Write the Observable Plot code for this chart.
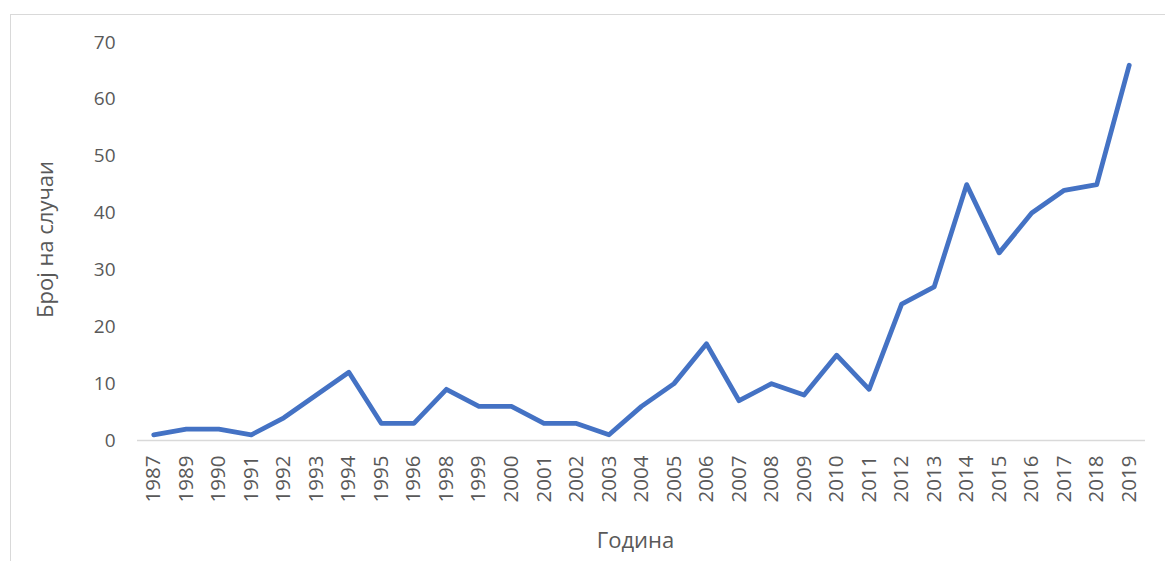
<!DOCTYPE html>
<html>
<head>
<meta charset="utf-8">
<script src="https://cdn.jsdelivr.net/npm/d3@7"></script>
<script src="https://cdn.jsdelivr.net/npm/@observablehq/plot@0.6"></script>
<style>
  html, body { margin: 0; padding: 0; background: #fff; overflow: hidden; width: 1165px; height: 561px; }
  #border { position: absolute; left: 10px; top: 14px; width: 1200px; height: 600px; border: 1.5px solid #d9d9d9; }
  #chart { position: absolute; left: 0; top: 0; }
</style>
</head>
<body>
<div id="border"></div>
<div id="chart"></div>
<script>
const years = ["1987","1989","1990","1991","1992","1993","1994","1995","1996","1998","1999","2000","2001","2002","2003","2004","2005","2006","2007","2008","2009","2010","2011","2012","2013","2014","2015","2016","2017","2018","2019"];
const cases = [1,2,2,1,4,8,12,3,3,9,6,6,3,3,1,6,10,17,7,10,8,15,9,24,27,45,33,40,44,45,66];
const yTicks = [0,10,20,30,40,50,60,70];
const xTitle = "Година";
const yTitle = "Број на случаи";

const data = years.map((y, i) => ({year: y, value: cases[i]}));
const textColor = "#595959";
const font = "'Open Sans', sans-serif";

const chart = Plot.plot({
  width: 1165,
  height: 561,
  marginLeft: 137,
  marginRight: 20,
  marginTop: 42,
  marginBottom: 121,
  style: {fontFamily: font, fontSize: "19px", color: textColor, background: "transparent"},
  x: {type: "point", domain: years, padding: 0.5, round: false},
  y: {domain: [0, 70]},
  marks: [
    Plot.ruleY([0], {stroke: "#d9d9d9", strokeWidth: 1.5}),
    Plot.axisY({ticks: yTicks, tickSize: 0, tickPadding: 22, label: null, fill: textColor, fontSize: 19}),
    Plot.axisX({tickRotate: -90, tickSize: 0, tickPadding: 15, label: null, fill: textColor, fontSize: 20.5}),
    Plot.line(data, {x: "year", y: "value", stroke: "#4472C4", strokeWidth: 4.8, strokeLinejoin: "round", strokeLinecap: "round"}),
    Plot.text([xTitle], {frameAnchor: "bottom", dy: 107, dx: -6, fill: textColor, fontSize: 22}),
    Plot.text([yTitle], {frameAnchor: "left", textAnchor: "middle", dx: -92, dy: -2, rotate: -90, fill: textColor, fontSize: 22})
  ]
});
document.getElementById("chart").appendChild(chart);
</script>
</body>
</html>
